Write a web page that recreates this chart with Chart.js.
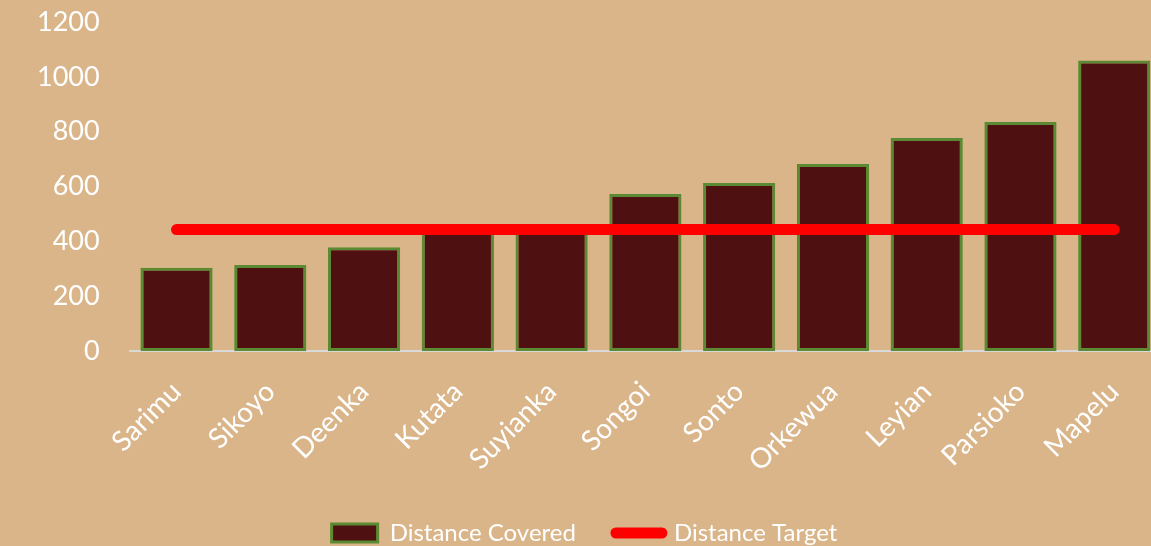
<!DOCTYPE html>
<html>
<head>
<meta charset="utf-8">
<script src="https://cdn.jsdelivr.net/npm/chart.js@4.4.0/dist/chart.umd.min.js"></script>
<style>
    html, body { margin: 0; padding: 0; background: #DAB589; overflow: hidden; }
    #wrap { width: 1162px; height: 555px; }
</style>
</head>
<body>
<div id="wrap"><canvas id="graphique" width="1162" height="555"></canvas></div>
<script>
const villages = ['Sarimu', 'Sikoyo', 'Deenka', 'Kutata', 'Suyianka', 'Songoi', 'Sonto', 'Orkewua', 'Leyian', 'Parsioko', 'Mapelu'];
const distanceParcourue = [304, 314, 379, 445, 440, 573, 613, 682, 777, 835, 1060];
const distanceCible = [443, 443, 443, 443, 443, 443, 443, 443, 443, 443, 443];
const ticksY = [0, 200, 400, 600, 800, 1000, 1200];

const blanc = "#FFFFFF";
const famille = "Lato, 'Open Sans', sans-serif";

const ctx = document.getElementById('graphique').getContext('2d');
new Chart(ctx, {
    data: {
        labels: villages,
        datasets: [
            {
                type: 'bar',
                label: "Distance Covered",
                data: distanceParcourue,
                backgroundColor: "#4F1012",
                borderColor: "#5B8A32",
                borderWidth: 3,
                borderSkipped: false,
                barPercentage: 0.77,
                categoryPercentage: 1,
                pointStyle: 'rect',
                order: 2
            },
            {
                type: 'line',
                label: "Distance Target",
                data: distanceCible,
                borderColor: "#FF0000",
                backgroundColor: "#FF0000",
                borderWidth: 11,
                borderCapStyle: 'round',
                pointRadius: 0,
                pointHoverRadius: 0,
                pointStyle: 'line',
                fill: false,
                order: 1
            }
        ]
    },
    options: {
        responsive: false,
        animation: false,
        layout: { padding: { left: 7, right: 0, top: 0, bottom: 0 } },
        scales: {
            x: {
                offset: true,
                // on rend un peu de hauteur a la legende (ecart horizontal plus grand)
                afterFit: axe => { axe.height -= 21; },
                grid: { display: false, drawTicks: false },
                border: { display: true, color: "#D9D9D9", width: 2 },
                ticks: {
                    color: blanc,
                    font: { family: famille, size: 28 },
                    maxRotation: 45,
                    minRotation: 45,
                    padding: 24
                }
            },
            y: {
                min: 0,
                max: 1200,
                afterBuildTicks: axe => { axe.ticks = ticksY.map(v => ({ value: v })); },
                // l'espace entre les labels et le graphe ne doit pas pousser le haut
                afterFit: axe => { axe.paddingTop = 22; axe.paddingBottom = 17; },
                grid: { display: false, drawTicks: false },
                border: { display: false },
                ticks: {
                    color: blanc,
                    font: { family: famille, size: 27 },
                    padding: 30,
                    callback: v => String(v)
                }
            }
        },
        plugins: {
            legend: {
                position: 'bottom',
                labels: {
                    color: blanc,
                    font: { family: famille, size: 24 },
                    usePointStyle: true,
                    pointStyleWidth: 46,
                    boxHeight: 18,
                    padding: 40,
                    sort: (a, b) => a.datasetIndex - b.datasetIndex,
                    generateLabels: chart => {
                        const items = Chart.defaults.plugins.legend.labels.generateLabels(chart);
                        items.forEach(it => {
                            if (it.pointStyle === 'line') it.lineCap = 'round';
                        });
                        return items;
                    }
                }
            },
            tooltip: { enabled: false }
        }
    }
});
</script>
</body>
</html>
